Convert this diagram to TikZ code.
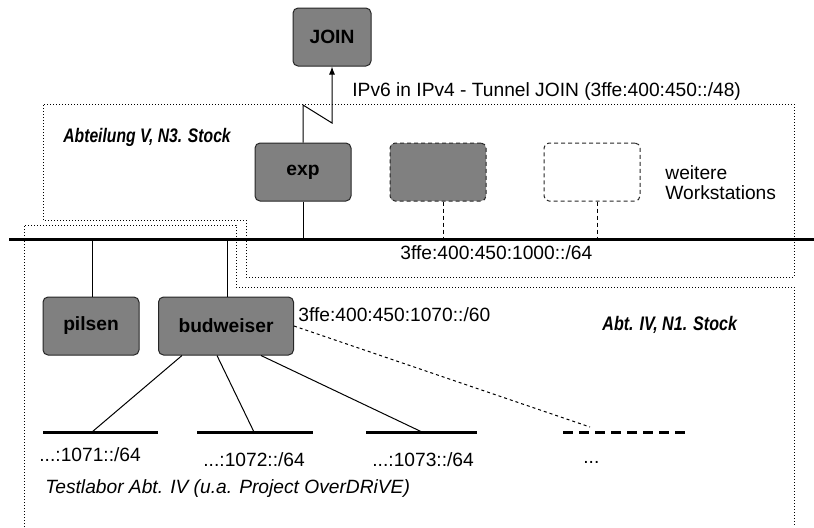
\documentclass[tikz,border=0pt]{standalone}
\usepackage{fontspec}
\setmainfont{Liberation Sans}
\usetikzlibrary{calc}
\usetikzlibrary{arrows.meta}
\definecolor{hostgray}{RGB}{128,128,128}

\begin{document}
\begin{tikzpicture}[x=0.5pt, y=-0.5pt,
    every node/.style={font=\fontsize{9.6}{11.5}\selectfont},
    host/.style={draw=black!85, fill=hostgray, rounded corners=2.5pt, line width=0.5pt,
        minimum width=48pt, minimum height=29pt, font=\fontsize{9.6}{11.5}\selectfont\bfseries},
    ghost/.style={host, dash pattern=on 2pt off 1.5pt},
    area/.style={line width=0.4pt, dash pattern=on 0.5pt off 1pt},
    bus/.style={line width=1.5pt},
    link/.style={line width=0.5pt},
    lbl/.style={anchor=west, inner sep=0pt},
    floor/.style={lbl, font=\fontsize{9.8}{11.5}\selectfont\bfseries\itshape}]
    \useasboundingbox (0,0) rectangle (814,527);

    % ---------------- areas ----------------
    \draw[area] (43,220) -- (43,104) -- (794,104) -- (794,277) -- (246,277) -- (246,220) -- cycle;
    \draw[area] (24,527) -- (24,225) -- (236,225) -- (236,287) -- (794,287) -- (794,527);

    \node[floor] (abtV) at (63,137) {\scalebox{0.8}[1]{Abteilung V, N3. Stock}};
    \node[floor] (abtIV) at (602,325) {\scalebox{0.82}[1]{Abt. IV, N1. Stock}};

    % ---------------- hosts ----------------
    \node[host, minimum width=39pt] (join) at (332,37) {JOIN};
    \node[host] (exp) at (303,172) {exp};
    \node[ghost] (ws1) at (438,172) {};
    \node[ghost, fill=none] (ws2) at (592,172) {};
    \node[host] (pilsen) at (91,326) {pilsen};
    \node[host, minimum width=67.5pt] (bud) at (226,326) {budweiser};

    \node[lbl, align=left] (more) at (665,183) {weitere\\[-1.5pt]Workstations};

    % ---------------- tunnel ----------------
    \coordinate (t1) at (303,105);
    \coordinate (t2) at (332,123);
    \draw[link, -{Latex[length=4pt,width=3pt]}] (exp.north) -- (t1) -- (t2) -- (join.south);
    \node[lbl] (tunnel) at (352,92) {IPv6 in IPv4 - Tunnel JOIN (3ffe:400:450::/48)};

    % ---------------- backbone ----------------
    \coordinate (busL) at (9,239);
    \coordinate (busR) at (814,239);
    \draw[bus] (busL) -- (busR);
    \node[lbl] (net1000) at (400,253) {3ffe:400:450:1000::/64};

    \draw[link] (exp.south) -- (exp.south |- busL);
    \draw[link, dash pattern=on 2pt off 1.5pt] ($(ws1.south)+(5,0)$) -- ($(ws1.south |- busL)+(5,0)$);
    \draw[link, dash pattern=on 2pt off 1.5pt] ($(ws2.south)+(5,0)$) -- ($(ws2.south |- busL)+(5,0)$);
    \draw[link] ($(pilsen.north)+(1,0)$) -- ($(pilsen.north |- busL)+(1,0)$);
    \draw[link] ($(bud.north)+(1,0)$) -- ($(bud.north |- busL)+(1,0)$);

    % ---------------- test lab subnets ----------------
    \node[lbl] (net1070) at (298,315) {3ffe:400:450:1070::/60};

    \coordinate (s1a) at (43,432);  \coordinate (s1b) at (158,432);
    \coordinate (s2a) at (197,432); \coordinate (s2b) at (313,432);
    \coordinate (s3a) at (366,432); \coordinate (s3b) at (477,432);
    \coordinate (s4a) at (563,432); \coordinate (s4b) at (688,432);
    \draw[bus] (s1a) -- (s1b);
    \draw[bus] (s2a) -- (s2b);
    \draw[bus] (s3a) -- (s3b);
    \draw[bus, dash pattern=on 5pt off 3pt] (s4a) -- (s4b);

    \coordinate (n1) at (92,432);
    \coordinate (n2) at (254,432);
    \coordinate (n3) at (422,432);
    \coordinate (n4) at (590,427);
    \draw[link] ($(bud.south)+(-44,0)$) -- (n1);
    \draw[link] ($(bud.south)+(-9,0)$) -- (n2);
    \draw[link] ($(bud.south)+(35,0)$) -- (n3);
    \draw[link, dash pattern=on 1.5pt off 1.5pt] (bud.east) -- (n4);

    \node[lbl] (net1071) at (39,455) {...:1071::/64};
    \node[lbl] (net1072) at (203,460) {...:1072::/64};
    \node[lbl] (net1073) at (372,460) {...:1073::/64};
    \node[lbl] (netmore) at (583,462) {...};

    \node[lbl, font=\fontsize{9.6}{11.5}\selectfont\itshape] (lab) at (45,489) {Testlabor Abt. IV (u.a. Project OverDRiVE)};
\end{tikzpicture}
\end{document}
